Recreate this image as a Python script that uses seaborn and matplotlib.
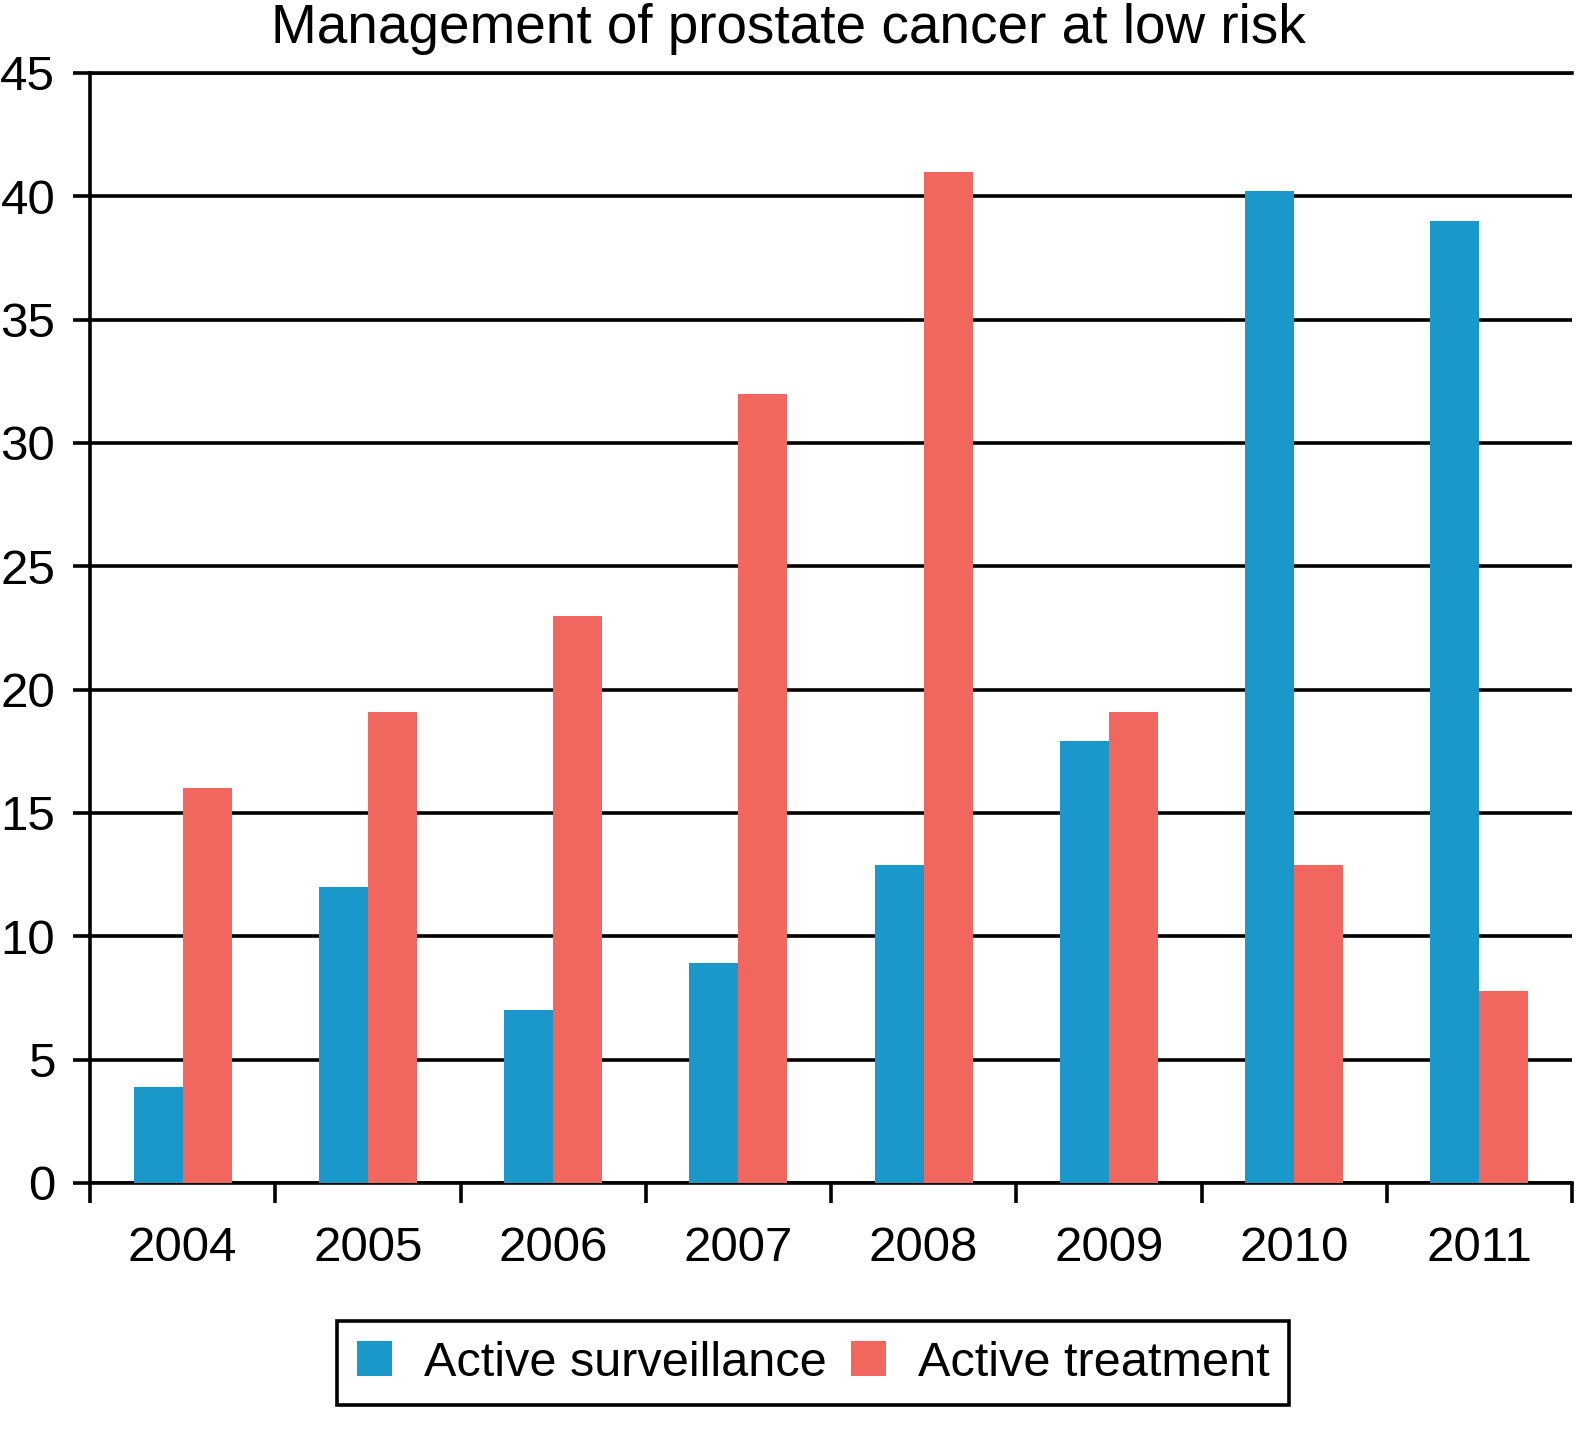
import matplotlib
matplotlib.use("Agg")
import matplotlib.pyplot as plt
import numpy as np
import pandas as pd
import seaborn as sns

years = ["2004", "2005", "2006", "2007", "2008", "2009", "2010", "2011"]
surveillance = [3.9, 12.0, 7.0, 8.9, 12.9, 17.9, 40.2, 39.0]
treatment = [16.0, 19.1, 23.0, 32.0, 41.0, 19.1, 12.9, 7.8]
series_names = ["Active surveillance", "Active treatment"]
colors = ["#1a98c9", "#f1665f"]

df = pd.DataFrame({
    "year": years * 2,
    "value": surveillance + treatment,
    "group": [series_names[0]] * len(years) + [series_names[1]] * len(years),
})

sns.set_style("white")
plt.rcParams["font.family"] = ["Liberation Sans", "DejaVu Sans"]
plt.rcParams["text.color"] = "black"
plt.rcParams["xtick.color"] = "black"
plt.rcParams["ytick.color"] = "black"

W, H = 1577, 1437
fig = plt.figure(figsize=(W / 100, H / 100), dpi=100)
ax = fig.add_axes([90 / W, 1 - 1183 / H, (1572 - 90) / W, (1183 - 73) / H])

sns.barplot(data=df, x="year", y="value", hue="group", palette=colors,
            width=0.53, gap=0, saturation=1, linewidth=0, ax=ax, legend=False, zorder=3)

ax.set_xlim(-0.5, len(years) - 0.5)
ax.set_ylim(0, 45)
ax.set_yticks(np.arange(0, 46, 5))
ax.yaxis.grid(True, color="black", linewidth=2.6, zorder=1)
ax.set_axisbelow(True)
ax.set_xlabel("")
ax.set_ylabel("")

# tick marks at the category boundaries, labels centred between them
ax.set_xticks(np.arange(-0.5, len(years), 1.0))
ax.set_xticklabels([])
ax.set_xticks(np.arange(len(years)), minor=True)
ax.set_xticklabels(years, minor=True)
ax.tick_params(axis="x", which="major", direction="out", length=14.5, width=2.6, bottom=True)
ax.tick_params(axis="x", which="minor", length=0, pad=31, labelsize=35.5)
ax.tick_params(axis="y", direction="out", length=12.5, width=2.6, left=True, pad=12.5, labelsize=35.5)

for side in ["left", "bottom", "top"]:
    ax.spines[side].set_color("black")
    ax.spines[side].set_linewidth(2.6)
ax.spines["right"].set_visible(False)

fig.suptitle("Management of prostate cancer at low risk", x=0.5, y=1 - 29 / H,
             va="center", fontsize=39.5)

handles = [plt.Rectangle((0, 0), 1, 1, color=c, linewidth=0) for c in colors]
leg = fig.legend(handles, series_names, loc="center", bbox_to_anchor=(813 / W, 1 - 1363 / H),
                 ncol=2, fontsize=35, frameon=True, fancybox=False, edgecolor="black",
                 handlelength=0.72, handleheight=0.72, handletextpad=0.66, columnspacing=0.5,
                 borderpad=0.4, borderaxespad=0, framealpha=1)
leg.get_frame().set_linewidth(2.6)

fig.savefig("out.png", dpi=100)
